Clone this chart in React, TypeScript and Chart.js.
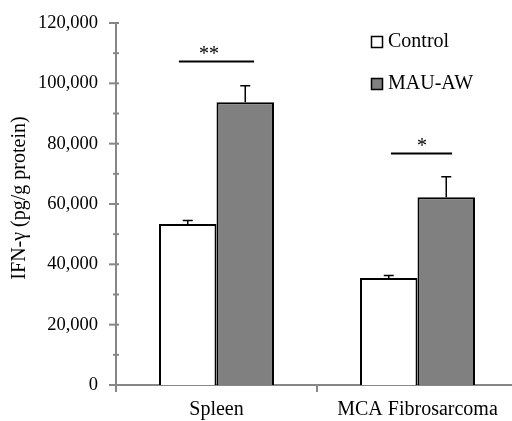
import React, { useEffect, useRef } from "react";
import { Chart, registerables } from "chart.js";

Chart.register(...registerables);

const categories = ["Spleen", "MCA Fibrosarcoma"];
const seriesNames = ["Control", "MAU-AW"];
const controlValues = [53400, 35500];
const mauValues = [93700, 62200];
const controlErrors = [1100, 800];
const mauErrors = [5500, 6800];
const yTickValues = [0, 20000, 40000, 60000, 80000, 100000, 120000];
const sigLabels = ["**", "*"];
const sigLevels = [107500, 77000];
const yAxisTitle = "IFN-γ (pg/g protein)";

const FONT = "'Liberation Serif', 'DejaVu Serif', serif";
const AXIS_GRAY = "#878787";
const MAU_FILL = "#808080";

// annotation layout (category units relative to category centre)
const sigLineFrom = [-0.187, -0.132];
const sigLineTo = [0.187, 0.172];
const sigTextAt = [-0.037, 0.022];

const overlayPlugin = {
  id: "overlay",
  afterDatasetsDraw(chart: any) {
    const ctx = chart.ctx;
    const x = chart.scales.x;
    const y = chart.scales.y;
    const area = chart.chartArea;
    const errs = [controlErrors, mauErrors];
    const vals = [controlValues, mauValues];
    ctx.save();
    // error bars
    ctx.strokeStyle = "#000";
    ctx.lineWidth = 1.5;
    for (let d = 0; d < 2; d++) {
      const meta = chart.getDatasetMeta(d);
      meta.data.forEach((el: any, i: number) => {
        const top = y.getPixelForValue(vals[d][i] + errs[d][i]);
        const bt = el.y;
        ctx.beginPath();
        ctx.moveTo(el.x, bt);
        ctx.lineTo(el.x, top);
        ctx.moveTo(el.x - 5, top);
        ctx.lineTo(el.x + 5, top);
        ctx.stroke();
      });
    }
    // significance
    const unit = x.getPixelForValue(1) - x.getPixelForValue(0);
    ctx.lineWidth = 2;
    ctx.font = "20px " + FONT;
    ctx.fillStyle = "#000";
    ctx.textAlign = "center";
    ctx.textBaseline = "alphabetic";
    for (let i = 0; i < sigLabels.length; i++) {
      const c = x.getPixelForValue(i);
      const ly = Math.round(y.getPixelForValue(sigLevels[i])) + 0.5;
      ctx.beginPath();
      ctx.moveTo(c + sigLineFrom[i] * unit, ly);
      ctx.lineTo(c + sigLineTo[i] * unit, ly);
      ctx.stroke();
      ctx.fillText(sigLabels[i], c + sigTextAt[i] * unit, ly - 1.5);
    }
    // axis ticks (y major / minor)
    ctx.strokeStyle = AXIS_GRAY;
    ctx.lineWidth = 2;
    const ax = area.left;
    for (let k = 0; k < yTickValues.length; k++) {
      const v = yTickValues[k];
      const py = y.getPixelForValue(v);
      ctx.beginPath();
      ctx.moveTo(ax - 7, py);
      ctx.lineTo(ax + 3, py);
      ctx.stroke();
      if (k < yTickValues.length - 1) {
        const pm = y.getPixelForValue((v + yTickValues[k + 1]) / 2);
        ctx.beginPath();
        ctx.moveTo(ax - 3, pm);
        ctx.lineTo(ax + 3, pm);
        ctx.stroke();
      }
    }
    // x category boundary ticks
    for (let i = 0; i <= categories.length; i++) {
      const px = x.getPixelForValue(i - 0.5);
      ctx.beginPath();
      ctx.moveTo(px, area.bottom);
      ctx.lineTo(px, area.bottom + 7);
      ctx.stroke();
    }
    // y axis title
    ctx.save();
    ctx.translate(20, 198);
    ctx.rotate(-Math.PI / 2);
    ctx.font = "20px " + FONT;
    ctx.fillStyle = "#000";
    ctx.textAlign = "center";
    ctx.textBaseline = "middle";
    ctx.fillText(yAxisTitle, 0, 0);
    ctx.restore();
    // legend
    const fills = ["#ffffff", MAU_FILL];
    ctx.font = "20px " + FONT;
    ctx.textAlign = "left";
    ctx.textBaseline = "middle";
    for (let i = 0; i < seriesNames.length; i++) {
      const by = 36 + i * 42;
      ctx.fillStyle = fills[i];
      ctx.fillRect(371, by, 12, 12);
      ctx.strokeStyle = "#000";
      ctx.lineWidth = 1.5;
      ctx.strokeRect(371.5, by + 0.5, 11, 11);
      ctx.fillStyle = "#000";
      ctx.fillText(seriesNames[i], 388, by + 6);
    }
    ctx.restore();
  },
};

export default function App() {
  const ref = useRef<HTMLCanvasElement | null>(null);
  useEffect(() => {
    if (!ref.current) return;
    const chart = new Chart(ref.current, {
      type: "bar",
      data: {
        labels: categories,
        datasets: [
          {
            label: seriesNames[0],
            data: controlValues,
            backgroundColor: "#ffffff",
            borderColor: "#000000",
            borderWidth: 2,
            categoryPercentage: 0.572,
            barPercentage: 1,
          },
          {
            label: seriesNames[1],
            data: mauValues,
            backgroundColor: MAU_FILL,
            borderColor: "#000000",
            borderWidth: 2,
            categoryPercentage: 0.572,
            barPercentage: 1,
          },
        ],
      },
      options: {
        responsive: false,
        animation: false,
        layout: { padding: { top: 23, right: 12, left: 0, bottom: 0 } },
        plugins: { legend: { display: false }, tooltip: { enabled: false } },
        scales: {
          x: {
            grid: { display: false, drawTicks: false },
            border: { display: true, color: AXIS_GRAY, width: 2 },
            ticks: { color: "#000", font: { family: FONT, size: 20 }, padding: 13, maxRotation: 0 },
            afterFit: (s: any) => {
              s.height = 36;
              s.paddingLeft = 0;
              s.paddingRight = 0;
            },
          },
          y: {
            min: 0,
            max: 120000,
            grid: { display: false, drawTicks: false },
            border: { display: true, color: AXIS_GRAY, width: 2 },
            afterBuildTicks: (s: any) => { s.ticks = yTickValues.map((v) => ({ value: v })); },
            ticks: {
              color: "#000",
              font: { family: FONT, size: 18.5 },
              padding: 18,
              callback: (v: any) => Number(v).toLocaleString("en-US"),
            },
            title: { display: false, text: yAxisTitle },
            afterFit: (s: any) => {
              s.width = 116;
              s.paddingTop = 0;
              s.paddingBottom = 0;
            },
          },
        },
      },
      plugins: [overlayPlugin],
    });
    return () => chart.destroy();
  }, []);
  return (
    <div style={{ position: "fixed", left: 0, top: 0, width: 512, height: 421, overflow: "hidden", background: "#fff" }}>
      <canvas ref={ref} width={530} height={421} style={{ position: "absolute", left: 0, top: 0, width: 530, height: 421 }} />
    </div>
  );
}
